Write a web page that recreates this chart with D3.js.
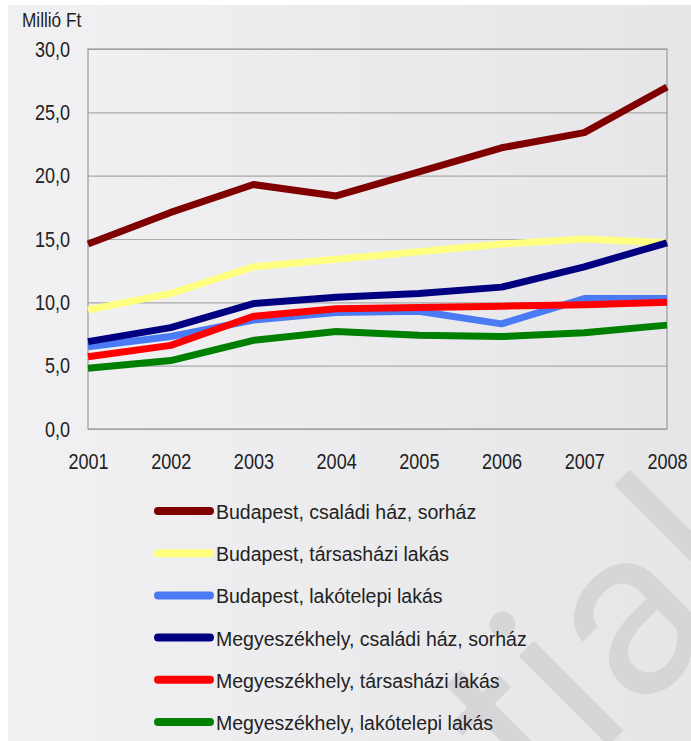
<!DOCTYPE html>
<html lang="hu">
<head>
    <meta charset="UTF-8">
    <title>Lakásárak</title>
    <style>
        body { margin: 0; background: #fff; }
        svg { display: block; }
    </style>
</head>
<body>
    <script src="https://cdn.jsdelivr.net/npm/d3@7/dist/d3.min.js"></script>
    <script>
        // adatok
        var years = [2001, 2002, 2003, 2004, 2005, 2006, 2007, 2008];
        var yTicks = [0, 5, 10, 15, 20, 25, 30];
        var seriesNames = [
            'Budapest, családi ház, sorház',
            'Budapest, társasházi lakás',
            'Budapest, lakótelepi lakás',
            'Megyeszékhely, családi ház, sorház',
            'Megyeszékhely, társasházi lakás',
            'Megyeszékhely, lakótelepi lakás'
        ];
        var bpCsaladi = [14.6, 17.1, 19.3, 18.4, 20.3, 22.2, 23.4, 27.0];
        var bpTarsas = [9.4, 10.7, 12.8, 13.4, 14.0, 14.6, 15.0, 14.7];
        var bpLakotelep = [6.5, 7.3, 8.6, 9.2, 9.3, 8.3, 10.3, 10.3];
        var mCsaladi = [6.9, 8.0, 9.9, 10.4, 10.7, 11.2, 12.8, 14.7];
        var mTarsas = [5.7, 6.6, 8.9, 9.5, 9.6, 9.7, 9.8, 10.0];
        var mLakotelep = [4.8, 5.4, 7.0, 7.7, 7.4, 7.3, 7.6, 8.2];
        var colors = ['#800000', '#ffff80', '#4a7bf4', '#000080', '#ff0000', '#008000'];

        var seriesValues = [bpCsaladi, bpTarsas, bpLakotelep, mCsaladi, mTarsas, mLakotelep];

        var width = 691,
            height = 741,
            plot = {left: 88, right: 667, top: 49, bottom: 429};

        // keskeny betű: Liberation Sans vízszintesen összenyomva
        var tickFont = '"Liberation Sans", Arial, sans-serif',
            narrow = 0.82;

        var svg = d3.select('body').append('svg')
            .attr('width', width)
            .attr('height', height);

        // háttér
        var grad = svg.append('defs').append('linearGradient')
            .attr('id', 'bg')
            .attr('x1', 0).attr('x2', 1).attr('y1', 0).attr('y2', 0);
        grad.append('stop').attr('offset', 0).attr('stop-color', '#f1f1f3');
        grad.append('stop').attr('offset', 1).attr('stop-color', '#e6e6e9');
        svg.append('rect')
            .attr('x', 8).attr('y', 5)
            .attr('width', width - 8).attr('height', height - 5)
            .attr('fill', 'url(#bg)');

        // skálák
        var x = d3.scaleLinear()
            .domain([years[0], years[years.length - 1]])
            .range([plot.left, plot.right]);
        var y = d3.scaleLinear()
            .domain([0, 30])
            .range([plot.bottom, plot.top]);

        // rácsvonalak
        var grid = svg.append('g')
            .attr('transform', 'translate(' + plot.left + ',0)')
            .call(d3.axisLeft(y).tickValues(yTicks).tickSize(-(plot.right - plot.left)).tickFormat(''));
        grid.select('.domain').remove();
        grid.selectAll('line').attr('stroke', '#aaaaaa').attr('stroke-width', 1.2);

        // keret
        svg.append('rect')
            .attr('x', plot.left).attr('y', plot.top)
            .attr('width', plot.right - plot.left)
            .attr('height', plot.bottom - plot.top)
            .attr('fill', 'none')
            .attr('stroke', '#9a9a9a')
            .attr('stroke-width', 1.2);

        // tengelyfeliratok
        var yAxis = svg.append('g')
            .attr('transform', 'translate(' + plot.left + ',0)')
            .call(d3.axisLeft(y).tickValues(yTicks).tickSize(0)
                .tickFormat(function(d) { return d3.format('.1f')(d).replace('.', ','); }));
        yAxis.select('.domain').remove();
        yAxis.selectAll('text')
            .attr('x', -18 / narrow)
            .attr('transform', 'scale(' + narrow + ',1)')
            .attr('font-family', tickFont)
            .attr('font-size', 22)
            .attr('fill', '#222');

        var xAxis = svg.append('g')
            .attr('transform', 'translate(0,' + plot.bottom + ')')
            .call(d3.axisBottom(x).tickValues(years).tickSize(0).tickPadding(24).tickFormat(d3.format('d')));
        xAxis.select('.domain').remove();
        xAxis.selectAll('text')
            .attr('transform', 'scale(' + narrow + ',1)')
            .attr('font-family', tickFont)
            .attr('font-size', 22)
            .attr('fill', '#222');

        svg.append('text')
            .attr('transform', 'translate(22,27) scale(' + narrow + ',1)')
            .attr('font-family', tickFont)
            .attr('font-size', 21)
            .attr('fill', '#222')
            .text('Millió Ft');

        // vonalak
        var line = d3.line()
            .x(function(d, i) { return x(years[i]); })
            .y(function(d) { return y(d); });

        svg.append('g').selectAll('path')
            .data(seriesValues)
            .enter()
            .append('path')
            .attr('d', line)
            .attr('fill', 'none')
            .attr('stroke', function(d, i) { return colors[i]; })
            .attr('stroke-width', 7)
            .attr('stroke-linejoin', 'round');

        // vízjel
        svg.append('text')
            .attr('transform', 'translate(770,584) rotate(-45)')
            .attr('text-anchor', 'end')
            .attr('font-family', 'Roboto, sans-serif')
            .attr('font-size', 240)
            .attr('fill', '#d6d6d8')
            .text('Confidential');

        // jelmagyarázat
        var legendY = d3.scaleLinear().domain([0, 5]).range([511, 722]);
        var legend = svg.append('g').selectAll('g')
            .data(seriesNames)
            .enter()
            .append('g')
            .attr('transform', function(d, i) { return 'translate(0,' + legendY(i) + ')'; });
        legend.append('line')
            .attr('x1', 158).attr('x2', 210)
            .attr('stroke', function(d, i) { return colors[i]; })
            .attr('stroke-width', 8)
            .attr('stroke-linecap', 'round');
        legend.append('text')
            .attr('x', 216)
            .attr('y', 8)
            .attr('font-family', '"Liberation Sans", Arial, sans-serif')
            .attr('font-size', 19.5)
            .attr('fill', '#222')
            .text(function(d) { return d; });
    </script>
</body>
</html>
